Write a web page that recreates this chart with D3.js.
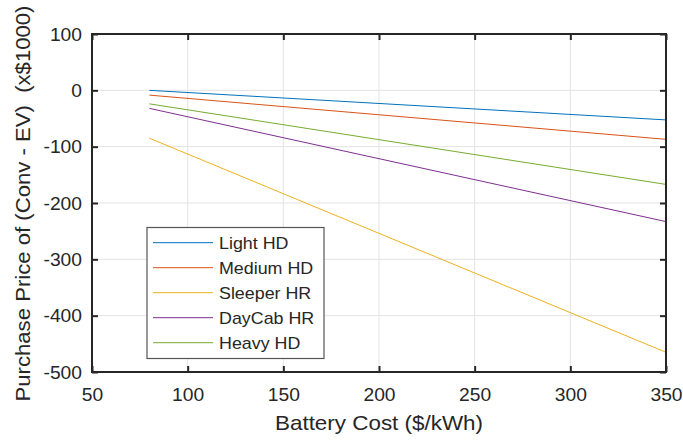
<!DOCTYPE html>
<html><head><meta charset="utf-8">
<script src="https://cdn.jsdelivr.net/npm/d3@7/dist/d3.min.js"></script>
<style>body{margin:0;background:#fff}text{font-family:"Liberation Sans",Arial,sans-serif;fill:#262626}</style>
</head><body><svg id="c" width="683" height="441"></svg>
<script>
const seriesNames = ["Light HD","Medium HD","Sleeper HR","DayCab HR","Heavy HD"];
const batteryCost = [80, 350];
const lightHD = [0, -52.5];
const mediumHD = [-8.5, -87];
const sleeperHR = [-85, -465];
const dayCabHR = [-32, -233];
const heavyHD = [-24, -167];
const colors = ["#0072BD","#D95319","#EDB120","#7E2F8E","#77AC30"];
const xTicks = [50,100,150,200,250,300,350];
const yTicks = [100,0,-100,-200,-300,-400,-500];

const svg = d3.select("#c");
const L=92,R=666,T=34,B=372;
const x = d3.scaleLinear().domain([50,350]).range([L,R]);
const y = d3.scaleLinear().domain([-500,100]).range([B,T]);

function stretch(sel, sx){
  sel.each(function(){
    const w = this.getComputedTextLength();
    d3.select(this).attr("textLength", w*sx).attr("lengthAdjust","spacingAndGlyphs");
  });
}

// grid
const g = svg.append("g");
g.selectAll(".gx").data(xTicks).join("line").attr("x1",d=>x(d)).attr("x2",d=>x(d)).attr("y1",T).attr("y2",B).attr("stroke","#e3e3e3").attr("stroke-width",1);
g.selectAll(".gy").data(yTicks).join("line").attr("y1",d=>y(d)).attr("y2",d=>y(d)).attr("x1",L).attr("x2",R).attr("stroke","#e3e3e3").attr("stroke-width",1);

const all = [lightHD, mediumHD, sleeperHR, dayCabHR, heavyHD];
const line = d3.line().x((d,i)=>x(batteryCost[i])).y(d=>y(d));
all.forEach((s,i)=>{
  svg.append("path").datum(s).attr("d",line).attr("fill","none").attr("stroke",colors[i]).attr("stroke-width",1);
});

// axes
const tk=6, fmt = d=>String(d);
const bx = svg.append("g").attr("transform",`translate(0,${B})`).call(d3.axisBottom(x).tickValues(xTicks).tickSizeInner(-tk).tickSizeOuter(0).tickPadding(0).tickFormat(fmt));
const tx = svg.append("g").attr("transform",`translate(0,${T})`).call(d3.axisTop(x).tickValues(xTicks).tickSizeInner(-tk).tickSizeOuter(0).tickFormat(""));
const ly = svg.append("g").attr("transform",`translate(${L},0)`).call(d3.axisLeft(y).tickValues(yTicks).tickSizeInner(-tk).tickSizeOuter(0).tickPadding(10).tickFormat(fmt));
const ry = svg.append("g").attr("transform",`translate(${R},0)`).call(d3.axisRight(y).tickValues(yTicks).tickSizeInner(-tk).tickSizeOuter(0).tickFormat(""));
[bx,tx,ly,ry].forEach(a=>{
  a.select(".domain").remove();
  a.selectAll(".tick line").attr("stroke","#262626").attr("stroke-width",2);
  a.selectAll("text").attr("font-size",17.5).attr("fill","#262626").style("font-family",'"Liberation Sans",Arial,sans-serif');
});
ly.selectAll("text").attr("dy","0.35em");
bx.selectAll("text").attr("y",29).attr("dy",0);
stretch(ly.selectAll("text"),1.1);
stretch(bx.selectAll("text"),1.1);
svg.append("rect").attr("x",L).attr("y",T).attr("width",R-L).attr("height",B-T).attr("fill","none").attr("stroke","#262626").attr("stroke-width",2);

const xl = svg.append("text").attr("x",(L+R)/2).attr("y",430).attr("text-anchor","middle").attr("font-size",21).text("Battery Cost ($/kWh)");
xl.attr("textLength",208).attr("lengthAdjust","spacingAndGlyphs");
const yl = svg.append("text").attr("transform",`translate(30,203.5) rotate(-90)`).attr("text-anchor","middle").attr("font-size",21).style("white-space","pre").attr("xml:space","preserve").text("Purchase Price of (Conv - EV)  (x$1000)");
yl.attr("textLength",396).attr("lengthAdjust","spacingAndGlyphs");

// legend
const lg = svg.append("g");
lg.append("rect").attr("x",147).attr("y",227.5).attr("width",177).attr("height",131).attr("fill","#fff").attr("stroke","#555").attr("stroke-width",1.2);
seriesNames.forEach((n,i)=>{
  const yy = 242.7 + i*25;
  lg.append("line").attr("x1",153).attr("x2",213).attr("y1",yy).attr("y2",yy).attr("stroke",colors[i]).attr("stroke-width",1);
  const t = lg.append("text").attr("x",219).attr("y",yy).attr("dy","0.35em").attr("font-size",17).text(n);
  stretch(t,1.05);
});
</script></body></html>
